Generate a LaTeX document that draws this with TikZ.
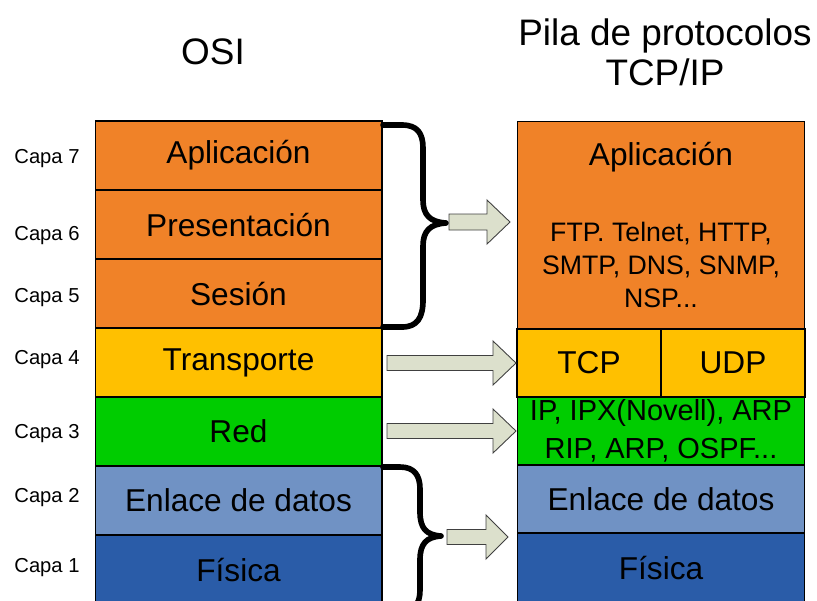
\documentclass[tikz,border=0pt]{standalone}
\usepackage{fontspec}
\setmainfont{Liberation Sans}
\definecolor{capaorange}{RGB}{240,130,40}
\definecolor{capayellow}{RGB}{255,192,0}
\definecolor{capagreen}{RGB}{0,204,0}
\definecolor{capalight}{RGB}{112,146,196}
\definecolor{capadark}{RGB}{42,92,168}
\definecolor{arrowgray}{RGB}{220,224,204}

\begin{document}
\begin{tikzpicture}[x=0.02cm, y=-0.02cm,
  layer/.style={draw=black, line width=0.6pt, minimum width=5.74cm, minimum height=1.38cm, inner sep=0pt, font=\fontsize{18}{22}\selectfont},
  halflayer/.style={layer, minimum width=2.88cm},
  capa/.style={font=\fontsize{11.5}{14}\selectfont},
  title/.style={align=center, font=\fontsize{21}{22.7}\selectfont},
  blockarrow/.style={draw=black!75, line width=0.5pt, fill=arrowgray},
  bracket/.style={line width=3.2pt, line cap=round, line join=round}]
  \useasboundingbox (0,0) rectangle (817,600);
  \clip (0,0) rectangle (817,600);
  % titles
  \node[title] (osititle) at (213,52) {OSI};
  \node[title] (tcptitle) at (665,52) {Pila de protocolos\\TCP/IP};
  % OSI stack
  \node[layer, fill=capaorange] (osi7) at (238.5,155.5) {Aplicación};
  \node[layer, fill=capaorange] (osi6) at (238.5,224.5) {Presentación};
  \node[layer, fill=capaorange] (osi5) at (238.5,293.5) {Sesión};
  \node[layer, fill=capayellow] (osi4) at (238.5,362.5) {Transporte};
  \node[layer, fill=capagreen] (osi3) at (238.5,431.5) {Red};
  \node[layer, fill=capalight] (osi2) at (238.5,500.5) {Enlace de datos};
  \node[layer, fill=capadark] (osi1) at (238.5,569.5) {Física};
  \node[capa] (capa7) at (47,159) {Capa 7};
  \node[capa] (capa6) at (47,236) {Capa 6};
  \node[capa] (capa5) at (47,298) {Capa 5};
  \node[capa] (capa4) at (47,360) {Capa 4};
  \node[capa] (capa3) at (47,434) {Capa 3};
  \node[capa] (capa2) at (47,498) {Capa 2};
  \node[capa] (capa1) at (47,568) {Capa 1};
  % TCP/IP stack
  \node[layer, fill=capaorange, minimum height=4.16cm] (tcpapp) at (661,225) {};
  \node[font=\fontsize{18}{22}\selectfont] (tcpapptext) at (661,157) {Aplicación};
  \node[align=center, font=\fontsize{15.2}{18.7}\selectfont] (tcpprot) at (661,265) {FTP. Telnet, HTTP,\\SMTP, DNS, SNMP,\\NSP...};
  \node[halflayer, fill=capayellow, minimum height=1.36cm] (tcp) at (589,363) {TCP};
  \node[halflayer, fill=capayellow, minimum height=1.36cm] (udp) at (733,363) {UDP};
  \node[layer, fill=capagreen, minimum height=1.36cm, align=center, font=\fontsize{16.5}{21.5}\selectfont] (ip) at (661,431) {IP, IPX(Novell), ARP\\RIP, ARP, OSPF...};
  \node[layer, fill=capalight, minimum height=1.36cm] (tcpenlace) at (661,499) {Enlace de datos};
  \node[layer, fill=capadark, minimum height=1.38cm] (tcpfisica) at (661,567.5) {Física};
  % braces
  \draw[bracket] (383,125) -- (402,125) .. controls (417,125) and (423,133) .. (423,148)
    -- (423,200) .. controls (423,215) and (430,222) .. (446,223)
    .. controls (430,224) and (423,231) .. (423,246) -- (423,300)
    .. controls (423,318) and (417,327) .. (402,327) -- (383,327);
  \draw[bracket] (383,467) -- (400,467) .. controls (414,467) and (420,475) .. (420,489)
    -- (420,512) .. controls (420,528) and (426,535) .. (441,536)
    .. controls (426,537) and (420,544) .. (420,560) -- (420,590)
    .. controls (420,604) and (414,612) .. (400,612) -- (383,612);
  % block arrows
  \draw[blockarrow] (449,214) -- (487,214) -- (487,200) -- (510,222) -- (487,244) -- (487,230) -- (449,230) -- cycle;
  \draw[blockarrow] (387,355.5) -- (493,355.5) -- (493,341) -- (516,363) -- (493,385) -- (493,370.5) -- (387,370.5) -- cycle;
  \draw[blockarrow] (387,423.5) -- (493,423.5) -- (493,409) -- (516,431) -- (493,453) -- (493,438.5) -- (387,438.5) -- cycle;
  \draw[blockarrow] (447,529.5) -- (486,529.5) -- (486,515) -- (508,537) -- (486,559) -- (486,544.5) -- (447,544.5) -- cycle;
\end{tikzpicture}
\end{document}
